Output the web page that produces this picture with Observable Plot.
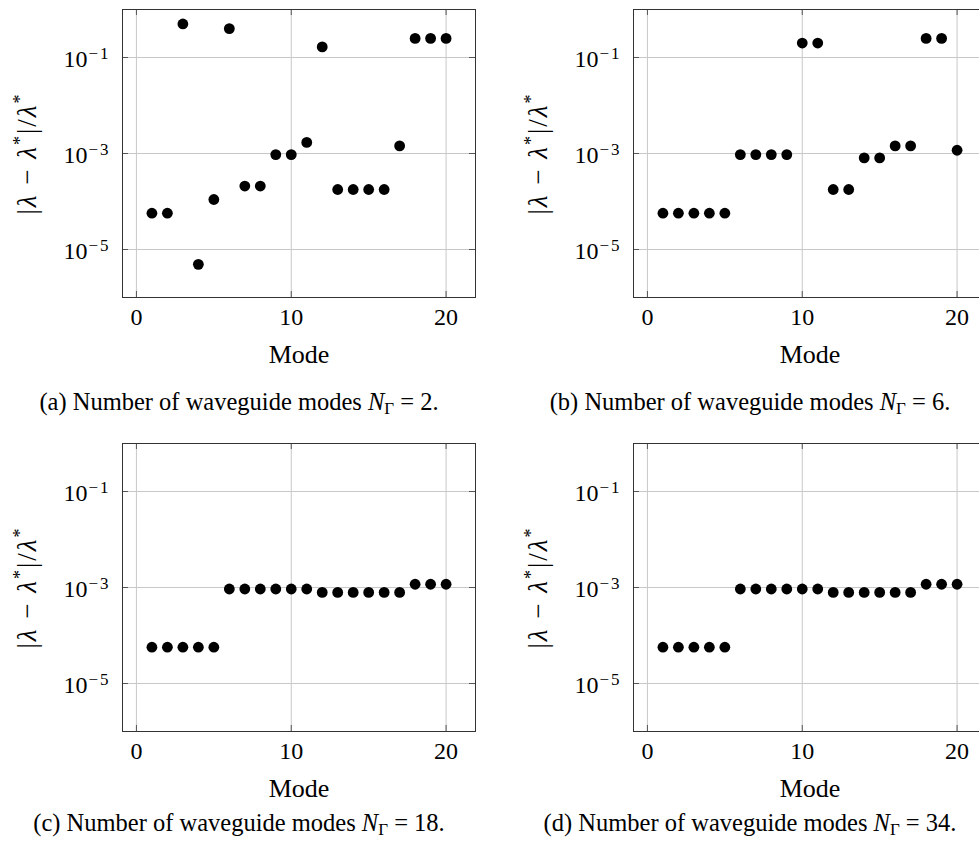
<!DOCTYPE html>
<html><head><meta charset="utf-8">
<script src="https://cdn.jsdelivr.net/npm/d3@7"></script>
<script src="https://cdn.jsdelivr.net/npm/@observablehq/plot@0.6"></script>
<style>
html,body{margin:0;padding:0;background:#fff;}
#fig{position:relative;width:979px;height:848px;overflow:hidden;font-family:"Liberation Serif",serif;color:#000;}
.panel{position:absolute;width:483px;height:367px;}
.panel svg{max-width:none !important;width:483px;height:367px;}
.cap{position:absolute;width:478px;text-align:center;font-size:24.5px;line-height:26px;white-space:nowrap;}
.cap sub{font-size:17px;vertical-align:-4px;line-height:0;}
</style></head><body><div id="fig"></div>
<script>
// x values: mode index
const modes = [1,2,3,4,5,6,7,8,9,10,11,12,13,14,15,16,17,18,19,20];
// relative eigenvalue error |λ-λ*|/λ*
const errA = [5.7e-5,5.7e-5,0.50,4.9e-6,1.1e-4,0.40,2.1e-4,2.1e-4,9.5e-4,9.5e-4,1.7e-3,0.166,1.78e-4,1.78e-4,1.78e-4,1.78e-4,1.44e-3,0.25,0.25,0.25];
const errB = [5.7e-5,5.7e-5,5.7e-5,5.7e-5,5.7e-5,9.5e-4,9.5e-4,9.5e-4,9.5e-4,0.20,0.20,1.78e-4,1.78e-4,8.1e-4,8.1e-4,1.44e-3,1.44e-3,0.25,0.25,1.17e-3];
const errC = [5.7e-5,5.7e-5,5.7e-5,5.7e-5,5.7e-5,9.3e-4,9.3e-4,9.3e-4,9.3e-4,9.3e-4,9.3e-4,7.9e-4,7.9e-4,7.9e-4,7.9e-4,7.9e-4,7.9e-4,1.17e-3,1.17e-3,1.17e-3];
const errD = [5.7e-5,5.7e-5,5.7e-5,5.7e-5,5.7e-5,9.3e-4,9.3e-4,9.3e-4,9.3e-4,9.3e-4,9.3e-4,7.9e-4,7.9e-4,7.9e-4,7.9e-4,7.9e-4,7.9e-4,1.17e-3,1.17e-3,1.17e-3];
const xTicks = [0,10,20];
const yTicks = [1e-5,1e-3,1e-1];
const captionLetters = ["(a)","(b)","(c)","(d)"];
const nGamma = ["2","6","18","34"];
const xLabel = "Mode";
const yLabelKey = "YLABEL";

const series = [errA, errB, errC, errD];
const layout = [
  {left:0, top:0, capLeft:0, capTop:389},
  {left:511, top:0, capLeft:511, capTop:389},
  {left:0, top:434, capLeft:0, capTop:810},
  {left:511, top:434, capLeft:511, capTop:810}
];

const FONT = "Liberation Serif";
const W = 483, H = 367, mL = 122, mR = 8, mT = 9, mB = 70;
const fw = W - mL - mR, fh = H - mT - mB;
const fig = document.getElementById("fig");

series.forEach((vals, k) => {
  const data = modes.map((m, i) => ({mode: m, err: vals[i]}));
  const chart = Plot.plot({
    width: W, height: H,
    marginLeft: mL, marginRight: mR, marginTop: mT, marginBottom: mB,
    x: {domain: [-0.9, 21.9]},
    y: {type: "log", domain: [1e-6, 1]},
    style: {fontFamily: FONT, fontSize: "24px", color: "#000", background: "transparent", overflow: "visible"},
    marks: [
      Plot.gridX(xTicks, {stroke: "#c8c8c8", strokeOpacity: 1}),
      Plot.gridY(yTicks, {stroke: "#c8c8c8", strokeOpacity: 1}),
      Plot.tickX(xTicks, {x: d => d, stroke: "#555", insetTop: fh - 6}),
      Plot.tickX(xTicks, {x: d => d, stroke: "#555", insetBottom: fh - 6}),
      Plot.tickY(yTicks, {y: d => d, stroke: "#555", insetRight: fw - 6}),
      Plot.tickY(yTicks, {y: d => d, stroke: "#555", insetLeft: fw - 6}),
      Plot.frame({stroke: "#333"}),
      Plot.axisX(xTicks, {tickSize: 0, tickPadding: 10, fontSize: 24, fontFamily: FONT, label: null}),
      Plot.axisY(yTicks, {tickSize: 0, tickPadding: 12, fontSize: 24, fontFamily: FONT, label: null, dy: 2,
        tickFormat: d => String(Math.round(Math.log10(d)))}),
      Plot.dot(data, {x: "mode", y: "err", r: 5.4, fill: "#000", stroke: null}),
      Plot.text([xLabel], {text: d => d, frameAnchor: "bottom", lineAnchor: "bottom", dy: 65, fontSize: 26, fontFamily: FONT}),
      Plot.text([yLabelKey], {text: d => d, frameAnchor: "left", textAnchor: "middle", rotate: -90, dx: -95, fontSize: 27, fontFamily: FONT})
    ]
  });
  const svg = d3.select(chart);
  // superscript exponents on y tick labels
  svg.selectAll('g[aria-label="y-axis tick label"] text').each(function() {
    const e = +this.textContent;
    const t = d3.select(this);
    t.text("10");
    t.append("tspan").attr("dy", -8).attr("dx", 1).attr("font-size", "17px").attr("letter-spacing", "2px")
      .text("\u2212" + Math.abs(e));
  });
  // rich y label |λ − λ*|/λ*
  svg.selectAll("text").filter(function() { return this.textContent === yLabelKey; }).each(function() {
    const t = d3.select(this).attr("letter-spacing", "2px");
    t.text(null);
    const parts = [["|", 0], ["λ", 1], [" \u2212 ", 0], ["λ", 1], ["*", 2], ["|/", 0], ["λ", 1], ["*", 2]];
    let raised = false;
    parts.forEach(([s, kind]) => {
      const sp = t.append("tspan").text(s);
      if (kind === 1) sp.attr("font-style", "italic");
      if (kind === 2) { sp.attr("font-size", "18px").attr("dy", -10); raised = true; }
      else if (raised) { sp.attr("dy", 10); raised = false; }
    });
  });
  const div = document.createElement("div");
  div.className = "panel";
  div.style.left = layout[k].left + "px";
  div.style.top = layout[k].top + "px";
  div.appendChild(chart);
  fig.appendChild(div);

  const cap = document.createElement("div");
  cap.className = "cap";
  cap.style.left = layout[k].capLeft + "px";
  cap.style.top = layout[k].capTop + "px";
  cap.innerHTML = captionLetters[k] + " Number of waveguide modes <i>N</i><sub>Γ</sub> = " + nGamma[k] + ".";
  fig.appendChild(cap);
});
</script>
</body></html>
